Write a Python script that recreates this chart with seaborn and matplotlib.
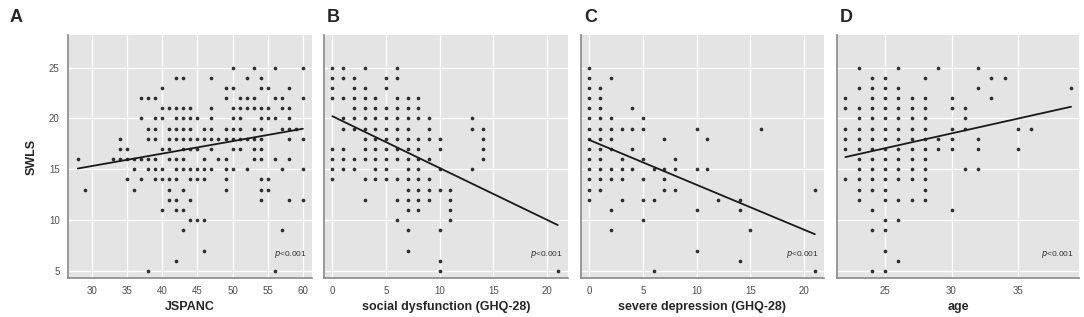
import numpy as np
import pandas as pd
import seaborn as sns
import matplotlib
matplotlib.use("Agg")
import matplotlib.pyplot as plt

# ---------------- data (x values listed for each SWLS score) ----------------
jspanc_by_swls = {
    25: [50, 53, 56, 60],
    24: [42, 43, 47, 52, 54],
    23: [40, 49, 50, 54, 55, 58],
    22: [37, 38, 39, 49, 51, 52, 53, 56, 57, 60],
    21: [40, 41, 42, 43, 44, 47, 50, 51, 52, 53, 54, 55, 57, 58],
    20: [37, 39, 40, 42, 43, 44, 45, 47, 50, 51, 54, 55, 56, 58],
    19: [38, 39, 41, 42, 43, 44, 46, 47, 49, 50, 51, 53, 54, 57, 58, 59],
    18: [34, 38, 39, 41, 42, 43, 44, 45, 46, 47, 48, 49, 50, 51, 52, 53, 54, 58, 60],
    17: [34, 35, 40, 41, 43, 44, 45, 47, 50, 51, 53, 54],
    16: [28, 33, 34, 35, 36, 37, 38, 39, 41, 42, 43, 46, 48, 49, 53, 54, 56, 58],
    15: [36, 38, 39, 40, 42, 43, 44, 45, 46, 47, 49, 50, 52, 57, 60],
    14: [35, 37, 39, 40, 41, 42, 44, 45, 46, 49, 54, 55],
    13: [29, 36, 41, 43, 49, 54, 55],
    12: [41, 42, 44, 54, 58, 60],
    11: [40, 42, 43],
    10: [44, 45, 46],
    9: [43, 57],
    7: [46],
    6: [42],
    5: [38, 56],
}
social_by_swls = {
    25: [0, 1, 3, 6],
    24: [0, 1, 2, 5, 6],
    23: [0, 2, 3, 5],
    22: [0, 1, 2, 3, 4, 6, 7, 8],
    21: [2, 3, 4, 5, 6, 7, 8],
    20: [1, 2, 3, 4, 5, 6, 7, 8, 9, 13],
    19: [1, 2, 3, 4, 5, 6, 7, 9, 13, 14],
    18: [3, 4, 5, 6, 7, 8, 9, 10, 14],
    17: [0, 1, 3, 4, 5, 6, 7, 8, 10, 14],
    16: [0, 1, 2, 3, 4, 5, 6, 7, 8, 9, 14],
    15: [0, 1, 2, 4, 5, 7, 8, 10, 13],
    14: [0, 3, 4, 5, 6, 7, 8, 9],
    13: [7, 8, 9, 10, 11],
    12: [3, 6, 7, 8, 9, 11],
    11: [7, 8, 11],
    10: [6, 11],
    9: [7, 10],
    7: [7],
    6: [10],
    5: [10, 21],
}
depression_by_swls = {
    25: [0],
    24: [0, 2],
    23: [0, 1],
    22: [0, 1],
    21: [0, 1, 4],
    20: [0, 1, 2, 5],
    19: [0, 1, 2, 3, 4, 5, 10, 16],
    18: [0, 1, 2, 7, 11],
    17: [0, 1, 2, 4],
    16: [0, 1, 3, 5, 8],
    15: [0, 1, 2, 3, 4, 6, 7, 8, 10, 11],
    14: [0, 1, 2, 3, 5, 7],
    13: [0, 1, 7, 8, 21],
    12: [0, 3, 5, 6, 12, 14],
    11: [2, 10, 14],
    10: [5],
    9: [2, 15],
    7: [10],
    6: [14],
    5: [6, 21],
}
age_by_swls = {
    25: [23, 26, 29, 32],
    24: [24, 25, 28, 33, 34],
    23: [23, 24, 25, 26, 32, 39],
    22: [22, 24, 25, 26, 27, 28, 30, 33],
    21: [22, 23, 24, 25, 26, 27, 28, 30, 31],
    20: [23, 24, 25, 26, 27, 28, 31],
    19: [22, 23, 24, 25, 26, 27, 28, 30, 31, 35, 36],
    18: [22, 23, 24, 25, 26, 27, 28, 29, 30, 32],
    17: [22, 23, 24, 25, 26, 27, 28, 29, 30, 32, 35],
    16: [23, 24, 25, 26, 27, 28],
    15: [23, 24, 25, 26, 27, 28, 31, 32],
    14: [22, 23, 24, 25, 26, 27, 28],
    13: [23, 24, 25, 28],
    12: [23, 25, 26, 27, 28],
    11: [24, 30],
    10: [25, 26],
    9: [24, 25],
    7: [25],
    6: [26],
    5: [24, 25],
}

panel_letters = ["A", "B", "C", "D"]
x_labels = ["JSPANC", "social dysfunction (GHQ-28)", "severe depression (GHQ-28)", "age"]
x_ticks = [[30, 35, 40, 45, 50, 55, 60], [0, 5, 10, 15, 20], [0, 5, 10, 15, 20], [25, 30, 35]]
x_limits = [(26.6, 61.3), (-0.78, 21.95), (-0.77, 21.85), (21.37, 39.6)]
y_ticks = [5, 10, 15, 20, 25]
y_limits = (4.3, 28.2)
p_label = "<0.001"


def to_frame(d):
    xs, ys = [], []
    for yv, xl in d.items():
        for xv in xl:
            xs.append(xv)
            ys.append(yv)
    return pd.DataFrame({"x": xs, "SWLS": ys})


frames = [to_frame(d) for d in (jspanc_by_swls, social_by_swls, depression_by_swls, age_by_swls)]

# ---------------- style ----------------
sns.set_style("darkgrid", {
    "axes.facecolor": "#e4e4e4",
    "grid.color": "white",
    "axes.edgecolor": "#8a8a8a",
})
plt.rcParams["font.family"] = ["Liberation Sans", "DejaVu Sans"]

fig = plt.figure(figsize=(10.84, 3.17), dpi=100)
W, H = 1084, 317
lefts = [68, 324, 581, 837]
widths = [244, 244, 243, 242]
top, bottom = 35, 278

for i, df in enumerate(frames):
    ax = fig.add_axes([lefts[i] / W, 1 - bottom / H, widths[i] / W, (bottom - top) / H])
    sns.regplot(data=df, x="x", y="SWLS", ax=ax, ci=None,
                scatter_kws=dict(s=7, color="black", linewidths=0),
                line_kws=dict(color="#1a1a1a", lw=1.3))
    ax.set_xlim(*x_limits[i])
    ax.set_ylim(*y_limits)
    ax.set_xticks(x_ticks[i])
    ax.set_yticks(y_ticks)
    ax.grid(True, color="white", lw=0.9)
    for s in ["top", "right"]:
        ax.spines[s].set_visible(False)
    for s in ["left", "bottom"]:
        ax.spines[s].set_visible(True)
        ax.spines[s].set_color("#8a8a8a")
        ax.spines[s].set_linewidth(1.2)
    ax.tick_params(axis="x", length=3, color="#8a8a8a", labelsize=7, labelcolor="#4d4d4d", pad=2.5)
    if i == 0:
        ax.tick_params(axis="y", length=3, color="#8a8a8a", labelsize=7, labelcolor="#4d4d4d", pad=3)
        ax.set_ylabel("SWLS", fontsize=9, fontweight="bold", labelpad=8)
    else:
        ax.tick_params(axis="y", length=0, labelleft=False)
        ax.set_ylabel("")
    ax.set_xlabel(x_labels[i], fontsize=9, fontweight="bold", labelpad=4)
    ax.text(0.98, 0.095, "$\\it{p}$" + p_label, transform=ax.transAxes,
            ha="right", va="center", fontsize=6, color="#333333")
    lx = 10 if i == 0 else lefts[i] + 3
    fig.text(lx / W, 1 - 17 / H, panel_letters[i], fontsize=13, fontweight="bold",
             ha="left", va="center")

fig.savefig("out.png", dpi=100)
